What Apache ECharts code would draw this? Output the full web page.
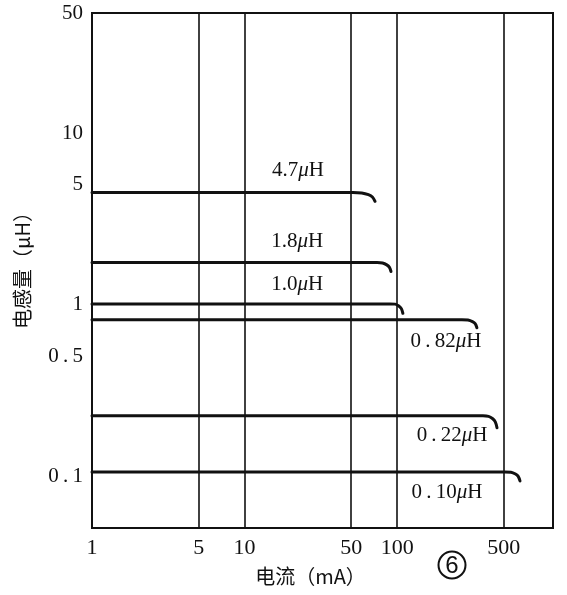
<!DOCTYPE html>
<html><head><meta charset="utf-8">
<script src="https://cdn.jsdelivr.net/npm/echarts@6/dist/echarts.min.js"></script>
<style>html,body{margin:0;padding:0;background:#fff}#c{width:567px;height:595px}</style>
</head><body><div id="c"></div>
<script>
// Tick labels
const xTicks = [1, 5, 10, 50, 100, 500];
const yTicks = [0.1, 0.5, 1, 5, 10, 50];
const xGridValues = [5, 10, 50, 100, 500];
// Series (current mA, inductance uH)
const seriesNames = ['4.7', '1.8', '1.0', '0.82', '0.22', '0.10'];
const curve47 = [[1, 4.5], [51.3, 4.5], [58.6, 4.47], [64.8, 4.37], [68.8, 4.24], [71.6, 4.0]];
const curve18 = [[1, 1.76], [73.8, 1.76], [80.2, 1.747], [85.5, 1.705], [88.8, 1.654], [91.1, 1.56]];
const curve10 = [[1, 1.01], [89.7, 1.01], [97.0, 1.007], [102.9, 0.98], [106.5, 0.948], [109, 0.89]];
const curve082 = [[1, 0.818], [265.8, 0.818], [291, 0.813], [311.4, 0.796], [324.4, 0.775], [333, 0.734]];
const curve022 = [[1, 0.225], [365, 0.225], [397, 0.2235], [423, 0.2164], [439.5, 0.2078], [451, 0.192]];
const curve010 = [[1, 0.106], [508.6, 0.106], [556.8, 0.1056], [596, 0.1031], [621, 0.100], [638, 0.094]];
const curves = [curve47, curve18, curve10, curve082, curve022, curve010];
// label anchors (data coordinates)
const labelAt = [[22.4, 6.04], [22.1, 2.33], [22.1, 1.31], [209, 0.609], [229, 0.172], [212, 0.081]];
const figureNo = '6';

const serif = '"Liberation Serif", "DejaVu Serif", serif';
const cjk = '"Noto Sans CJK SC", "Liberation Serif", serif';
const spacedDot = s => s.replace(/^0\./, '0\u2009.\u2009');

const series = curves.map((d, i) => ({
  type: 'line',
  name: seriesNames[i] + 'μH',
  data: d,
  smooth: 0.35,
  symbol: 'none',
  lineStyle: {color: '#111', width: 3, cap: 'round'},
  z: 5,
  markPoint: {
    symbol: 'rect', symbolSize: 1, itemStyle: {color: 'rgba(0,0,0,0)'},
    label: {
      show: true, position: 'inside', color: '#111',
      fontFamily: serif, fontSize: 21,
      formatter: spacedDot(seriesNames[i]) + '{i|μ}H',
      rich: {i: {fontStyle: 'italic', fontFamily: serif, fontSize: 21, color: '#111'}}
    },
    data: [{coord: labelAt[i], value: seriesNames[i]}]
  }
}));
series[0].markLine = {
  silent: true, symbol: 'none', animation: false,
  label: {show: false},
  lineStyle: {color: '#111', width: 1.6, type: 'solid'},
  data: xGridValues.map(v => ({xAxis: v}))
};

const chart = echarts.init(document.getElementById('c'));
chart.setOption({
  animation: false,
  backgroundColor: '#fff',
  grid: {left: 92, right: 14, top: 13, bottom: 67, show: true, borderColor: '#111', borderWidth: 2},
  xAxis: {
    type: 'log', logBase: 10, min: 1, max: 1050,
    name: '电流（mA）', nameLocation: 'middle', nameGap: 38,
    nameTextStyle: {fontFamily: cjk, fontSize: 20, color: '#111', padding: [0, 24, 0, 0]},
    axisLine: {show: true, lineStyle: {color: '#111', width: 2}},
    axisTick: {show: false},
    splitLine: {show: false},
    minorSplitLine: {show: false},
    axisLabel: {customValues: xTicks, fontFamily: serif, fontSize: 22, color: '#111', margin: 9,
      formatter: v => String(v)}
  },
  yAxis: {
    type: 'log', logBase: 10, min: 0.05, max: 50,
    name: '电感量（μH）', nameLocation: 'middle', nameGap: 60, nameRotate: 90,
    nameTextStyle: {fontFamily: cjk, fontSize: 20, color: '#111', padding: [0, 0, 0, 10]},
    axisLine: {show: true, lineStyle: {color: '#111', width: 2}},
    axisTick: {show: false},
    splitLine: {show: false},
    axisLabel: {customValues: yTicks, fontFamily: serif, fontSize: 21, color: '#111', margin: 9,
      formatter: v => spacedDot(String(v))}
  },
  graphic: [
    {type: 'circle', shape: {cx: 452, cy: 565, r: 13.5}, style: {fill: 'none', stroke: '#111', lineWidth: 2}},
    {type: 'text', x: 452, y: 566,
     style: {text: figureNo, font: '24px "Liberation Sans", sans-serif', fill: '#111', textAlign: 'center', textVerticalAlign: 'middle'}}
  ],
  series: series
});
</script></body></html>
